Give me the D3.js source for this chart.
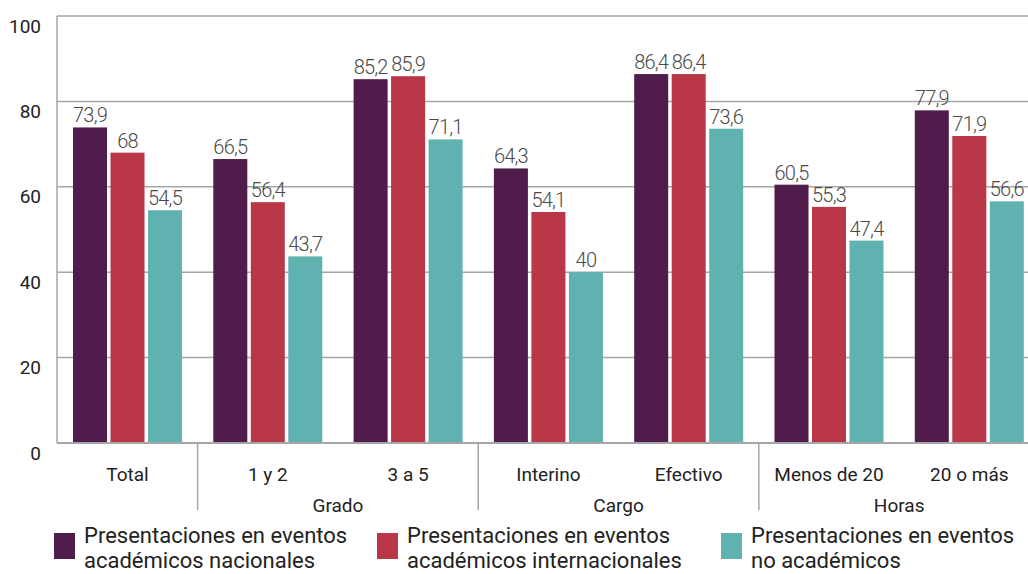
<!DOCTYPE html>
<html>
<head>
<meta charset="utf-8">
<script src="https://cdn.jsdelivr.net/npm/d3@7"></script>
<style>
  body { margin: 0; background: #fff; }
  svg text { font-family: Roboto, "Noto Sans", sans-serif; }
</style>
</head>
<body>
<div id="chart"></div>
<script>
// data
const categories = ["Total", "1 y 2", "3 a 5", "Interino", "Efectivo", "Menos de 20", "20 o más"];
const seriesNames = [
  ["Presentaciones en eventos", "académicos nacionales"],
  ["Presentaciones en eventos", "académicos internacionales"],
  ["Presentaciones en eventos", "no académicos"]
];
const nacionales      = [73.9, 66.5, 85.2, 64.3, 86.4, 60.5, 77.9];
const internacionales = [68.0, 56.4, 85.9, 54.1, 86.4, 55.3, 71.9];
const noAcademicos    = [54.5, 43.7, 71.1, 40.0, 73.6, 47.4, 56.6];
const groups = [
  { name: "Grado", first: "1 y 2", last: "3 a 5" },
  { name: "Cargo", first: "Interino", last: "Efectivo" },
  { name: "Horas", first: "Menos de 20", last: "20 o más" }
];
const yTicks = [0, 20, 40, 60, 80, 100];
const colors = ["#4f1c4c", "#b93746", "#5fb2b0"];

const series = [nacionales, internacionales, noAcademicos];

// dimensions
const w = 1028, h = 574;
const plotLeft = 57, plotRight = 1028;
const yTop = 16, yBot = 443;
const bandW = 140.3;

const svg = d3.select("#chart").append("svg")
  .attr("width", w)
  .attr("height", h);

// scales
const x0 = d3.scaleBand()
  .domain(categories)
  .range([plotLeft + 0.35, plotLeft + 0.35 + bandW * categories.length]);
const x1 = d3.scaleBand()
  .domain(d3.range(series.length))
  .range([15.65, 124.65])
  .paddingInner(0.093);
const y = d3.scaleLinear()
  .domain([0, 100])
  .range([yBot, yTop]);

// gridlines
svg.append("g")
  .selectAll("line")
  .data(yTicks.filter(t => t > 0))
  .join("line")
  .attr("x1", plotLeft).attr("x2", plotRight)
  .attr("y1", d => y(d)).attr("y2", d => y(d))
  .attr("stroke", "#a6a6a6")
  .attr("stroke-width", 1.5);

// y axis
const yAxis = d3.axisLeft(y).tickValues(yTicks).tickSize(0).tickPadding(16);
const gy = svg.append("g")
  .attr("transform", `translate(${plotLeft}, 0)`)
  .call(yAxis);
gy.select(".domain").remove();
gy.selectAll("text")
  .attr("dy", 16)
  .attr("font-size", 19)
  .attr("fill", "#222");
svg.append("line")
  .attr("x1", plotLeft).attr("x2", plotLeft)
  .attr("y1", yTop).attr("y2", yBot)
  .attr("stroke", "#a6a6a6").attr("stroke-width", 1.5);

// bars
const cat = svg.append("g")
  .selectAll("g")
  .data(categories)
  .join("g")
  .attr("transform", d => `translate(${x0(d)}, 0)`);

cat.selectAll("rect")
  .data((d, i) => series.map((s, k) => ({ k, v: s[i] })))
  .join("rect")
  .attr("x", d => x1(d.k))
  .attr("width", x1.bandwidth())
  .attr("y", d => y(d.v))
  .attr("height", d => y(0) - y(d.v))
  .attr("fill", d => colors[d.k]);

cat.selectAll("text")
  .data((d, i) => series.map((s, k) => ({ k, v: s[i] })))
  .join("text")
  .attr("x", d => x1(d.k) + x1.bandwidth() / 2)
  .attr("y", d => y(d.v) - 5)
  .attr("text-anchor", "middle")
  .attr("font-size", 20)
  .attr("font-weight", 300)
  .attr("letter-spacing", -0.8)
  .attr("fill", "#4a4a4a")
  .text(d => String(d.v).replace(".", ","));

// x axis
const xAxis = d3.axisBottom(x0).tickSize(0);
const gx = svg.append("g")
  .attr("transform", `translate(0, ${yBot})`)
  .call(xAxis);
gx.select(".domain").remove();
gx.selectAll("text")
  .attr("y", 38)
  .attr("dy", 0)
  .attr("font-size", 19)
  .attr("fill", "#222");
svg.append("line")
  .attr("x1", plotLeft).attr("x2", plotRight)
  .attr("y1", yBot).attr("y2", yBot)
  .attr("stroke", "#a6a6a6").attr("stroke-width", 2);

// group separators and labels
svg.append("g")
  .selectAll("line")
  .data(groups)
  .join("line")
  .attr("x1", d => x0(d.first)).attr("x2", d => x0(d.first))
  .attr("y1", yBot).attr("y2", 510)
  .attr("stroke", "#a6a6a6").attr("stroke-width", 1.5);
svg.append("g")
  .selectAll("text")
  .data(groups)
  .join("text")
  .attr("x", d => (x0(d.first) + x0(d.last) + x0.bandwidth()) / 2)
  .attr("y", 512)
  .attr("text-anchor", "middle")
  .attr("font-size", 19)
  .attr("fill", "#222")
  .text(d => d.name);

// legend
const legendX = [54, 377, 721];
const legend = svg.append("g")
  .selectAll("g")
  .data(seriesNames)
  .join("g")
  .attr("transform", (d, i) => `translate(${legendX[i]}, 533)`);
legend.append("rect")
  .attr("width", 21).attr("height", 26)
  .attr("fill", (d, i) => colors[i]);
legend.append("text")
  .attr("font-size", 22)
  .attr("fill", "#222")
  .selectAll("tspan")
  .data(d => d)
  .join("tspan")
  .attr("x", 30)
  .attr("y", (d, i) => 10 + i * 25)
  .text(d => d);
</script>
</body>
</html>
